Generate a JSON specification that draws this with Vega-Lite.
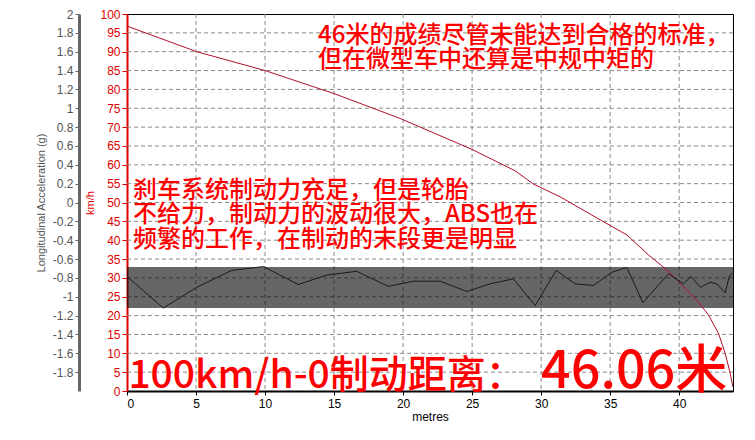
{
  "$schema": "https://vega.github.io/schema/vega-lite/v6.json",
  "width": 606,
  "height": 377,
  "autosize": {"type": "none"},
  "padding": {"left": 127, "top": 14, "right": 22, "bottom": 49},
  "background": "white",
  "config": {
    "view": {"stroke": "#000", "strokeWidth": 1},
    "font": "Liberation Sans"
  },
  "datasets": {
    "gridx": [{"m": 5}, {"m": 10}, {"m": 15}, {"m": 20}, {"m": 25}, {"m": 30}, {"m": 35}, {"m": 40}],
    "gridy": [{"kmh": 5}, {"kmh": 10}, {"kmh": 15}, {"kmh": 20}, {"kmh": 25}, {"kmh": 30}, {"kmh": 35}, {"kmh": 40}, {"kmh": 45}, {"kmh": 50}, {"kmh": 55}, {"kmh": 60}, {"kmh": 65}, {"kmh": 70}, {"kmh": 75}, {"kmh": 80}, {"kmh": 85}, {"kmh": 90}, {"kmh": 95}],
    "band": [{"m": 0, "m2": 43.9, "kmh": 22.0, "kmh2": 32.9}],
    "speed": [
      {"m": 0, "kmh": 96.8}, {"m": 5.05, "kmh": 90.0}, {"m": 10.0, "kmh": 85.0},
      {"m": 15.07, "kmh": 78.8}, {"m": 19.78, "kmh": 72.3}, {"m": 24.98, "kmh": 64.1},
      {"m": 28.12, "kmh": 58.4}, {"m": 29.44, "kmh": 54.9}, {"m": 31.38, "kmh": 51.5},
      {"m": 34.28, "kmh": 45.4}, {"m": 36.21, "kmh": 41.4}, {"m": 37.78, "kmh": 36.1},
      {"m": 39.11, "kmh": 32.1}, {"m": 40.2, "kmh": 28.1}, {"m": 41.28, "kmh": 24.1},
      {"m": 42.12, "kmh": 20.2}, {"m": 42.85, "kmh": 15.3}, {"m": 43.33, "kmh": 10.0},
      {"m": 43.7, "kmh": 4.7}, {"m": 43.89, "kmh": 1.1}
    ],
    "accel": [
      {"m": 0, "g": -0.785}, {"m": 2.63, "g": -1.12}, {"m": 5.05, "g": -0.9},
      {"m": 7.59, "g": -0.72}, {"m": 9.88, "g": -0.68}, {"m": 12.41, "g": -0.87},
      {"m": 14.47, "g": -0.77}, {"m": 16.64, "g": -0.73}, {"m": 18.93, "g": -0.89},
      {"m": 20.75, "g": -0.835}, {"m": 22.68, "g": -0.835}, {"m": 24.62, "g": -0.944},
      {"m": 26.3, "g": -0.863}, {"m": 27.99, "g": -0.81}, {"m": 29.57, "g": -1.093},
      {"m": 31.09, "g": -0.72}, {"m": 32.46, "g": -0.863}, {"m": 33.79, "g": -0.88},
      {"m": 35.12, "g": -0.74}, {"m": 36.21, "g": -0.69}, {"m": 37.37, "g": -1.064},
      {"m": 39.22, "g": -0.757}, {"m": 40.31, "g": -0.863}, {"m": 40.87, "g": -0.785},
      {"m": 41.52, "g": -0.9}, {"m": 42.25, "g": -0.846}, {"m": 42.73, "g": -0.863},
      {"m": 43.33, "g": -0.96}, {"m": 43.62, "g": -0.79}, {"m": 43.82, "g": -0.75}
    ],
    "notes": [
      {"m": 13.84, "kmh": 92.3, "text": "46米的成绩尽管未能达到合格的标准，", "size": 24},
      {"m": 13.84, "kmh": 86.0, "text": "但在微型车中还算是中规中矩的", "size": 24},
      {"m": 0.43, "kmh": 51.3, "text": "刹车系统制动力充足，但是轮胎", "size": 24},
      {"m": 0.43, "kmh": 44.9, "text": "不给力，制动力的波动很大，ABS也在", "size": 24},
      {"m": 0.43, "kmh": 38.3, "text": "频繁的工作，在制动的末段更是明显", "size": 24},
      {"m": 0.1, "kmh": 0.8, "text": "100km/h-0制动距离：", "size": 39},
      {"m": 30.0, "kmh": 0.8, "text": "46.06米", "size": 52}
    ]
  },
  "resolve": {"scale": {"y": "independent"}},
  "layer": [
    {
      "encoding": {
        "x": {
          "field": "m", "type": "quantitative",
          "scale": {"domain": [0, 43.9], "nice": false, "zero": false},
          "axis": {
            "title": "metres", "values": [0, 5, 10, 15, 20, 25, 30, 35, 40],
            "labelColor": "#000", "labelFontSize": 12, "labelPadding": 3,
            "tickColor": "#000", "tickSize": 4,
            "domainColor": "#000", "domainWidth": 2,
            "titleColor": "#000", "titleFontSize": 12, "titleFontWeight": "normal", "titlePadding": 2,
            "grid": false
          }
        },
        "y": {
          "field": "kmh", "type": "quantitative",
          "scale": {"domain": [0, 100], "nice": false},
          "axis": {
            "orient": "left", "title": "km/h",
            "values": [0, 5, 10, 15, 20, 25, 30, 35, 40, 45, 50, 55, 60, 65, 70, 75, 80, 85, 90, 95, 100],
            "labelOverlap": false,
            "labelColor": "#e00000", "labelFontSize": 12, "labelPadding": 2,
            "tickColor": "#e00000", "tickSize": 5,
            "domainColor": "#e00000", "domainWidth": 2,
            "titleColor": "#e00000", "titleFontSize": 11, "titleFontWeight": "normal", "titlePadding": 4,
            "grid": false
          }
        }
      },
      "layer": [
        {
          "data": {"name": "gridx"},
          "mark": {"type": "rule", "color": "#8a8a8a", "strokeWidth": 1, "strokeDash": [4, 3]},
          "encoding": {"y": null}
        },
        {
          "data": {"name": "gridy"},
          "mark": {"type": "rule", "color": "#8a8a8a", "strokeWidth": 1, "strokeDash": [4, 3]},
          "encoding": {"x": null}
        },
        {
          "data": {"name": "band"},
          "mark": {"type": "rect", "color": "#000", "opacity": 0.6},
          "encoding": {
            "x2": {"field": "m2"},
            "y2": {"field": "kmh2"}
          }
        },
        {
          "data": {"name": "speed"},
          "mark": {"type": "line", "color": "#b0102a", "strokeWidth": 1, "clip": true}
        },
        {
          "data": {"name": "notes"},
          "mark": {"type": "text", "align": "left", "baseline": "alphabetic", "color": "#ff0000", "font": "Noto Sans CJK SC", "fontWeight": 500},
          "encoding": {
            "text": {"field": "text"},
            "size": {"field": "size", "type": "quantitative", "scale": null}
          }
        }
      ]
    },
    {
      "data": {"name": "accel"},
      "mark": {"type": "line", "color": "#1a1a1a", "strokeWidth": 1},
      "encoding": {
        "x": {
          "field": "m", "type": "quantitative",
          "scale": {"domain": [0, 43.9], "nice": false, "zero": false},
          "axis": {
            "title": "metres", "values": [0, 5, 10, 15, 20, 25, 30, 35, 40],
            "labelColor": "#000", "labelFontSize": 12, "labelPadding": 3,
            "tickColor": "#000", "tickSize": 4,
            "domainColor": "#000", "domainWidth": 2,
            "titleColor": "#000", "titleFontSize": 12, "titleFontWeight": "normal", "titlePadding": 2,
            "grid": false
          }
        },
        "y": {
          "field": "g", "type": "quantitative",
          "scale": {"domain": [-2, 2], "nice": false, "zero": false},
          "axis": {
            "orient": "left", "offset": 48, "title": "Longitudinal Acceleration (g)",
            "values": [-1.8, -1.6, -1.4, -1.2, -1, -0.8, -0.6, -0.4, -0.2, 0, 0.2, 0.4, 0.6, 0.8, 1, 1.2, 1.4, 1.6, 1.8, 2],
            "labelExpr": "'' + datum.value",
            "labelOverlap": false,
            "labelColor": "#555", "labelFontSize": 12, "labelPadding": 2,
            "tickColor": "#666", "tickSize": 4,
            "domainColor": "#666", "domainWidth": 3,
            "titleColor": "#555", "titleFontSize": 11, "titleFontWeight": "normal", "titlePadding": 6,
            "grid": false
          }
        }
      }
    }
  ]
}
